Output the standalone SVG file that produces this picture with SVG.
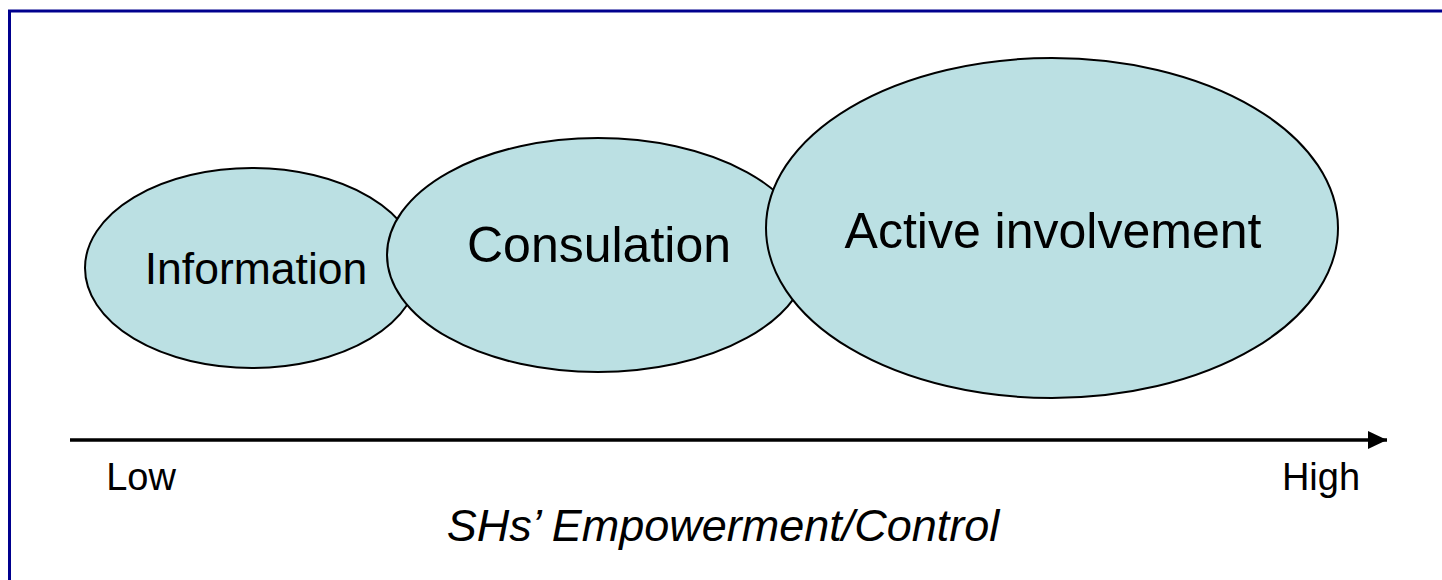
<svg xmlns="http://www.w3.org/2000/svg" width="1442" height="580" viewBox="0 0 1442 580">
<defs>
<style>
.node{fill:#BBE0E3;stroke:#000;stroke-width:2}
.lbl{font-family:"Liberation Sans",Arial,sans-serif;fill:#000;text-anchor:middle}
</style>
<marker id="arr" markerUnits="userSpaceOnUse" markerWidth="20" markerHeight="18" refX="19" refY="9" orient="auto">
<path d="M0,0 L19,9 L0,18 Z" fill="#000"/>
</marker>
</defs>
<rect x="0" y="0" width="1442" height="580" fill="#fff"/>
<rect x="9.5" y="11" width="1450" height="600" fill="none" stroke="#00008E" stroke-width="3"/>
<g id="information">
<ellipse class="node" cx="252" cy="268" rx="167" ry="100"/>
<text class="lbl" x="256" y="284" font-size="44.5">Information</text>
</g>
<g id="consulation">
<ellipse class="node" cx="598" cy="255" rx="211" ry="117"/>
<text class="lbl" x="599" y="262" font-size="50">Consulation</text>
</g>
<g id="active">
<ellipse class="node" cx="1052" cy="228" rx="286" ry="170"/>
<text class="lbl" x="1053" y="248" font-size="50">Active involvement</text>
</g>
<g id="connectors">
<line x1="70" y1="440" x2="1387" y2="440" stroke="#000" stroke-width="3.5" marker-end="url(#arr)"/>
</g>
<g id="axis-labels">
<text class="lbl" x="141" y="490" font-size="38">Low</text>
<text class="lbl" x="1321" y="490" font-size="38">High</text>
<text class="lbl" x="723" y="541" font-size="45" font-style="italic">SHs’ Empowerment/Control</text>
</g>
</svg>
